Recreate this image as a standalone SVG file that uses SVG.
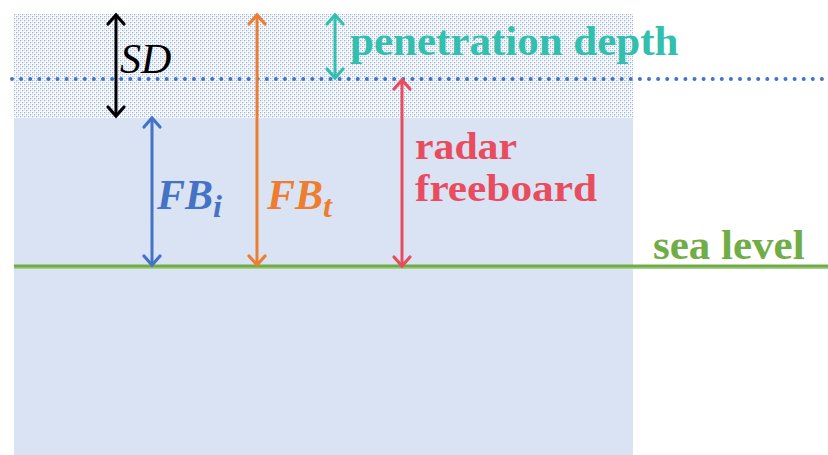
<svg xmlns="http://www.w3.org/2000/svg" width="828" height="455" viewBox="0 0 828 455">
<style>
.lbl{font-family:"Liberation Serif","Times New Roman",serif;font-weight:bold;font-size:43px}
.rf{font-family:"Liberation Serif","Times New Roman",serif;font-weight:bold;font-size:38px;fill:#E84C5E}
.math{font-family:"Liberation Serif","Times New Roman",serif;font-style:italic;font-weight:bold;font-size:42px}
.shaft{stroke-width:3;fill:none}
</style>
<defs>
<pattern id="snow" width="4" height="4" patternUnits="userSpaceOnUse">
<rect width="4" height="4" fill="#FFFFFF"/>
<rect x="0" y="0" width="1.3" height="1.3" fill="#9DB4E0"/>
<rect x="2" y="2" width="1.3" height="1.3" fill="#9DB4E0"/>
<rect x="2" y="0" width="1" height="1" fill="#D5DFF2"/>
<rect x="0" y="2" width="1" height="1" fill="#D5DFF2"/>
</pattern>
<marker id="hk" viewBox="-12 -10 14 20" markerWidth="14" markerHeight="20" refX="0" refY="0" orient="auto-start-reverse" markerUnits="userSpaceOnUse" overflow="visible"><path d="M-9,-8 L0,0 L-9,8" fill="none" stroke="#000000" stroke-width="3.2" stroke-linecap="round"/></marker>
<marker id="ho" viewBox="-12 -10 14 20" markerWidth="14" markerHeight="20" refX="0" refY="0" orient="auto-start-reverse" markerUnits="userSpaceOnUse" overflow="visible"><path d="M-9,-8 L0,0 L-9,8" fill="none" stroke="#ED7D31" stroke-width="3.2" stroke-linecap="round"/></marker>
<marker id="hb" viewBox="-12 -10 14 20" markerWidth="14" markerHeight="20" refX="0" refY="0" orient="auto-start-reverse" markerUnits="userSpaceOnUse" overflow="visible"><path d="M-9,-8 L0,0 L-9,8" fill="none" stroke="#4472C4" stroke-width="3.2" stroke-linecap="round"/></marker>
<marker id="hr" viewBox="-12 -10 14 20" markerWidth="14" markerHeight="20" refX="0" refY="0" orient="auto-start-reverse" markerUnits="userSpaceOnUse" overflow="visible"><path d="M-9,-8 L0,0 L-9,8" fill="none" stroke="#E84C5E" stroke-width="3.2" stroke-linecap="round"/></marker>
<marker id="ht" viewBox="-12 -10 14 20" markerWidth="14" markerHeight="20" refX="0" refY="0" orient="auto-start-reverse" markerUnits="userSpaceOnUse" overflow="visible"><path d="M-9,-8 L0,0 L-9,8" fill="none" stroke="#32BFAE" stroke-width="3.2" stroke-linecap="round"/></marker>
</defs>
<rect width="828" height="455" fill="#FFFFFF"/>
<g id="snow-layer"><rect x="14" y="14" width="619" height="104" fill="url(#snow)"/></g>
<g id="ice-layer"><rect x="14" y="118" width="619" height="337" fill="#DAE3F3"/></g>
<g id="radar-horizon"><line x1="12" y1="79" x2="828" y2="79" stroke="#4472C4" stroke-width="4" stroke-linecap="round" stroke-dasharray="0 9.1"/></g>
<g id="sea-level">
<line x1="14" y1="267.5" x2="828" y2="267.5" stroke="#A9D18E" stroke-width="3"/>
<line x1="14" y1="266" x2="828" y2="266" stroke="#70AD47" stroke-width="3"/>
<text class="lbl" x="653" y="259" fill="#70AD47">sea level</text>
</g>
<g id="connectors">
<line class="shaft" x1="116" y1="15" x2="116" y2="116" stroke="#000000" marker-start="url(#hk)" marker-end="url(#hk)"/>
<line class="shaft" x1="335" y1="15" x2="335" y2="78" stroke="#32BFAE" marker-start="url(#ht)" marker-end="url(#ht)"/>
<line class="shaft" x1="257" y1="15" x2="257" y2="265" stroke="#ED7D31" marker-start="url(#ho)" marker-end="url(#ho)"/>
<line class="shaft" x1="152" y1="118" x2="152" y2="265" stroke="#4472C4" marker-start="url(#hb)" marker-end="url(#hb)"/>
<line class="shaft" x1="402" y1="80" x2="402" y2="266" stroke="#E84C5E" marker-start="url(#hr)" marker-end="url(#hr)"/>
</g>
<g id="snow-depth-label"><text x="120" y="73" font-family="Liberation Serif, Times New Roman, serif" font-style="italic" font-size="42" fill="#000000">SD</text></g>
<g id="penetration-label"><text class="lbl" x="350" y="55" fill="#32BFAE">penetration depth</text></g>
<g id="ice-freeboard-label"><text class="math" x="157" y="209" fill="#4472C4">FB<tspan font-size="32" dy="8">i</tspan></text></g>
<g id="total-freeboard-label"><text class="math" x="267" y="209" fill="#ED7D31">FB<tspan font-size="32" dy="8">t</tspan></text></g>
<g id="radar-freeboard-label">
<text class="rf" x="415" y="159" textLength="102" lengthAdjust="spacingAndGlyphs">radar</text>
<text class="rf" x="415" y="201" textLength="182" lengthAdjust="spacingAndGlyphs">freeboard</text>
</g>
</svg>
